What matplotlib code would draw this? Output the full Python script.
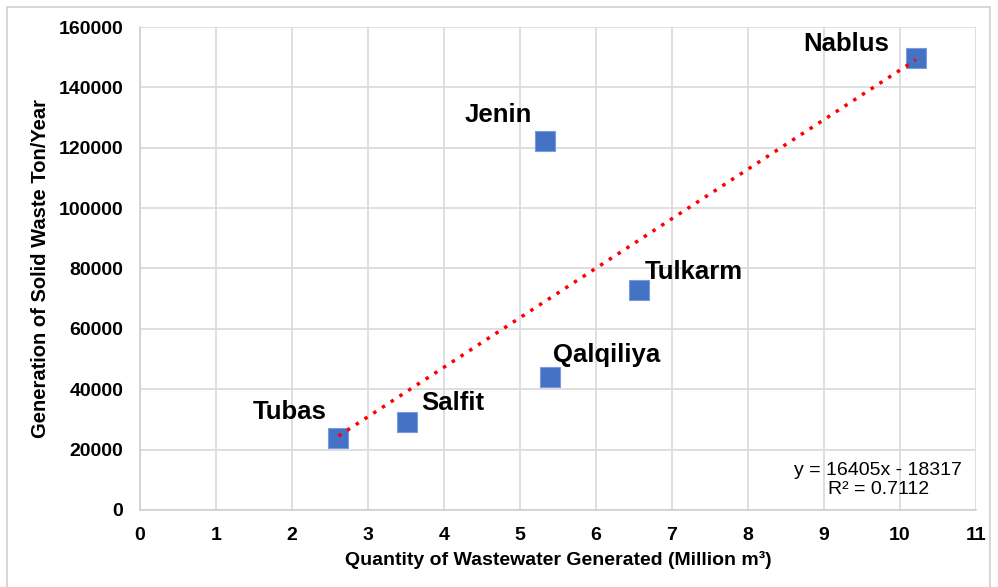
import numpy as np
import matplotlib.pyplot as plt
from matplotlib.patches import Rectangle

plt.rcParams["font.family"] = ["Liberation Sans", "DejaVu Sans"]

# districts: wastewater (million m3) vs solid waste (ton/year)
districts = ["Tubas", "Salfit", "Jenin", "Qalqiliya", "Tulkarm", "Nablus"]
wastewater = [2.61, 3.51, 5.33, 5.39, 6.57, 10.21]
solid_waste = [23800, 29100, 122200, 44000, 72800, 149700]

# linear trendline as reported
trend_slope = 16405
trend_intercept = -18317
trend_r2 = 0.7112

# label offsets in points (dx, dy) from each marker
label_offsets = [(-35, 19), (33, 14), (-34, 19), (41, 16), (39, 13), (-50, 10)]

x = np.array(wastewater)
y = np.array(solid_waste)

fig = plt.figure(figsize=(9.98, 5.87), dpi=100)
ax = fig.add_axes([0.1403, 0.1312, 0.8377, 0.8228])

# outer chart frame
fig.patches.append(Rectangle((7 / 998, -0.1), (990 - 7) / 998, 1 - 7 / 587 + 0.1,
                             transform=fig.transFigure, fill=False,
                             edgecolor="#d0d0d0", linewidth=1.2))

ax.set_xlim(0, 11)
ax.set_ylim(0, 160000)
ax.set_xticks(range(0, 12))
ax.set_yticks(range(0, 160001, 20000))
ax.grid(True, color="#d9d9d9", linewidth=1.2)
ax.set_axisbelow(True)
for side in ["top", "right"]:
    ax.spines[side].set_visible(False)
for side in ["left", "bottom"]:
    ax.spines[side].set_color("#d0d0d0")
    ax.spines[side].set_linewidth(1.2)
ax.tick_params(length=0, labelsize=14)
ax.tick_params(axis="x", pad=12)
ax.tick_params(axis="y", pad=12)
for lbl in ax.get_xticklabels() + ax.get_yticklabels():
    lbl.set_fontweight("bold")

# trendline across the data range
xs = np.array([x.min(), x.max()])
ax.plot(xs, trend_slope * xs + trend_intercept, color="#ff0000",
        linestyle=(0, (1, 2)), linewidth=2.5, zorder=4)

ax.scatter(x, y, marker="s", s=200, color="#4472c4", edgecolors="#7a9be0",
           linewidths=0.8, zorder=3)

for name, xi, yi, off in zip(districts, wastewater, solid_waste, label_offsets):
    ax.annotate(name, (xi, yi), xytext=off, textcoords="offset points",
                ha="center", va="center", fontsize=18.5, fontweight="bold")

ax.text(0.883, 0.062,
        f"y = {trend_slope}x - {abs(trend_intercept)}\nR² = {trend_r2:.4f}",
        transform=ax.transAxes, ha="center", va="center", fontsize=14,
        multialignment="center", linespacing=1.1)

ax.set_xlabel("Quantity of Wastewater Generated (Million m³)", fontsize=14,
              fontweight="bold", labelpad=5)
ax.set_ylabel("Generation of Solid Waste Ton/Year", fontsize=14.5,
              fontweight="bold", labelpad=6)

fig.savefig("out.png", dpi=100)
